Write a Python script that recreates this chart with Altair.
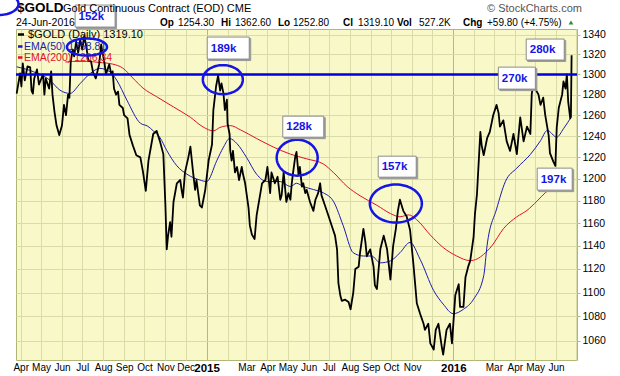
import math
import altair as alt
import pandas as pd

# ---------------- data ----------------
price_dates = [
    "2014-03-26", "2014-03-31", "2014-04-02", "2014-04-04", "2014-04-07", "2014-04-11", "2014-04-15",
    "2014-04-17", "2014-04-19", "2014-04-21", "2014-04-25", "2014-04-28", "2014-05-04", "2014-05-06",
    "2014-05-08", "2014-05-13", "2014-05-16", "2014-05-18", "2014-05-21", "2014-05-24", "2014-05-28",
    "2014-06-01", "2014-06-04", "2014-06-07", "2014-06-10", "2014-06-12", "2014-06-14", "2014-06-17",
    "2014-06-19", "2014-06-22", "2014-06-25", "2014-06-28", "2014-07-01", "2014-07-04", "2014-07-07",
    "2014-07-10", "2014-07-14", "2014-07-17", "2014-07-21", "2014-07-26", "2014-07-29", "2014-08-03",
    "2014-08-05", "2014-08-10", "2014-08-13", "2014-08-15", "2014-08-17", "2014-08-20", "2014-08-23",
    "2014-08-25", "2014-08-30", "2014-09-01", "2014-09-06", "2014-09-09", "2014-09-14", "2014-09-19",
    "2014-09-25", "2014-09-29", "2014-10-03", "2014-10-07", "2014-10-14", "2014-10-19", "2014-10-24",
    "2014-10-29", "2014-11-01", "2014-11-03", "2014-11-05", "2014-11-08", "2014-11-10", "2014-11-13",
    "2014-11-18", "2014-11-23", "2014-11-25", "2014-11-27", "2014-11-30", "2014-12-05", "2014-12-08",
    "2014-12-12", "2014-12-15", "2014-12-17", "2014-12-22", "2014-12-25", "2014-12-30",
    "2015-01-04", "2015-01-09", "2015-01-11", "2015-01-15", "2015-01-18", "2015-01-21", "2015-01-23",
    "2015-01-26", "2015-01-28", "2015-01-31", "2015-02-01", "2015-02-04", "2015-02-05", "2015-02-07",
    "2015-02-09", "2015-02-12", "2015-02-15", "2015-02-18", "2015-02-22", "2015-02-24", "2015-02-27",
    "2015-03-04", "2015-03-06", "2015-03-09", "2015-03-13", "2015-03-16", "2015-03-21", "2015-03-24",
    "2015-03-29", "2015-04-01", "2015-04-05", "2015-04-07", "2015-04-12", "2015-04-16", "2015-04-20",
    "2015-04-22", "2015-04-25", "2015-04-29", "2015-05-02", "2015-05-05", "2015-05-07", "2015-05-09",
    "2015-05-12", "2015-05-14", "2015-05-17", "2015-05-19", "2015-05-22", "2015-05-24", "2015-05-27",
    "2015-05-29", "2015-06-03", "2015-06-08", "2015-06-11", "2015-06-15", "2015-06-18", "2015-06-20",
    "2015-06-25", "2015-06-30", "2015-07-05", "2015-07-10", "2015-07-13", "2015-07-15", "2015-07-18",
    "2015-07-20", "2015-07-25", "2015-07-30", "2015-08-02", "2015-08-06", "2015-08-09", "2015-08-14",
    "2015-08-16", "2015-08-21", "2015-08-24", "2015-08-26", "2015-08-31", "2015-09-05", "2015-09-07",
    "2015-09-10", "2015-09-15", "2015-09-20", "2015-09-25", "2015-09-30", "2015-10-04", "2015-10-08",
    "2015-10-11", "2015-10-14", "2015-10-19", "2015-10-24", "2015-10-29", "2015-11-03", "2015-11-08",
    "2015-11-13", "2015-11-18", "2015-11-20", "2015-11-25", "2015-11-28", "2015-12-03", "2015-12-06",
    "2015-12-10", "2015-12-15", "2015-12-17", "2015-12-22", "2015-12-27", "2015-12-30",
    "2016-01-04", "2016-01-09", "2016-01-11", "2016-01-16", "2016-01-19", "2016-01-23", "2016-01-26",
    "2016-01-31", "2016-02-02", "2016-02-05", "2016-02-10", "2016-02-12", "2016-02-15", "2016-02-20",
    "2016-02-24", "2016-02-29", "2016-03-05", "2016-03-08", "2016-03-10", "2016-03-15", "2016-03-20",
    "2016-03-25", "2016-03-30", "2016-04-04", "2016-04-09", "2016-04-14", "2016-04-19", "2016-04-24",
    "2016-04-26", "2016-04-29", "2016-05-01", "2016-05-06", "2016-05-09", "2016-05-13", "2016-05-16",
    "2016-05-21", "2016-05-23", "2016-05-28", "2016-05-31", "2016-06-02", "2016-06-05", "2016-06-10",
    "2016-06-12", "2016-06-15", "2016-06-17", "2016-06-19", "2016-06-22", "2016-06-23", "2016-06-24",
]
price_vals = [
    1281, 1301, 1288, 1311, 1294, 1308, 1307,
    1284, 1281, 1296, 1305, 1290, 1300, 1280,
    1296, 1286, 1303, 1280, 1263, 1250, 1241,
    1250, 1270, 1260, 1280, 1277, 1313, 1325,
    1318, 1333, 1322, 1335, 1325, 1339, 1328,
    1314, 1313, 1302, 1296, 1310, 1330, 1311,
    1300, 1310, 1300, 1303, 1286, 1280, 1283,
    1270, 1267, 1260, 1257, 1241, 1231, 1222,
    1220, 1206, 1189, 1217, 1242, 1245, 1235,
    1223, 1177, 1137, 1149, 1161, 1148, 1179,
    1196, 1199, 1190, 1183, 1206, 1220, 1230,
    1206, 1190, 1199, 1176, 1174, 1190,
    1217, 1232, 1265, 1288, 1299, 1284, 1291,
    1281, 1265, 1275, 1252, 1242, 1226, 1217,
    1226, 1206, 1211, 1199, 1211, 1204, 1196,
    1174, 1158, 1150, 1146, 1167, 1185, 1196,
    1199, 1211, 1187, 1206, 1196, 1202, 1181,
    1185, 1206, 1179, 1187, 1181, 1196, 1206,
    1220, 1225, 1204, 1211, 1193, 1196, 1187,
    1190, 1179, 1171, 1181, 1187, 1196, 1185,
    1176, 1167, 1158, 1149, 1137, 1108, 1097,
    1093, 1094, 1092, 1086, 1100, 1120, 1122,
    1134, 1155, 1143, 1131, 1137, 1122, 1106,
    1103, 1137, 1149, 1137, 1111, 1140, 1155,
    1171, 1181, 1171, 1166, 1154, 1124, 1091,
    1082, 1074, 1069, 1074, 1058, 1053, 1069,
    1074, 1055, 1049, 1069, 1074, 1058,
    1098, 1107, 1088, 1088, 1113, 1122, 1127,
    1148, 1168, 1186, 1244, 1231, 1222, 1238,
    1244, 1260, 1270, 1262, 1249, 1255, 1235,
    1226, 1242, 1223, 1258, 1235, 1249, 1242,
    1280, 1296, 1286, 1280, 1270, 1277, 1260,
    1241, 1224, 1216, 1212, 1248, 1267, 1280,
    1293, 1286, 1300, 1273, 1257, 1259.3, 1319.1,
]

ema50_dates = [
    "2014-03-26", "2014-04-20", "2014-05-14", "2014-05-29", "2014-06-13", "2014-06-28", "2014-07-13",
    "2014-07-27", "2014-08-11", "2014-08-21", "2014-09-05", "2014-09-25", "2014-10-06", "2014-10-14",
    "2014-10-24", "2014-11-03", "2014-11-18", "2014-12-03", "2014-12-22", "2015-01-01", "2015-01-16",
    "2015-01-26", "2015-02-04", "2015-02-15", "2015-03-01", "2015-03-16", "2015-03-31", "2015-04-20",
    "2015-05-05", "2015-05-14", "2015-05-24", "2015-06-08", "2015-06-23", "2015-07-08", "2015-07-22",
    "2015-08-06", "2015-08-21", "2015-09-02", "2015-09-15", "2015-09-30", "2015-10-14", "2015-10-29",
    "2015-11-13", "2015-12-03", "2015-12-17", "2016-01-01", "2016-01-16", "2016-01-31", "2016-02-15",
    "2016-02-20", "2016-03-05", "2016-03-18", "2016-04-04", "2016-04-24", "2016-05-09", "2016-05-19",
    "2016-06-02", "2016-06-12", "2016-06-24",
]
ema50_vals = [
    1307.6, 1302.6, 1294.3, 1284.4, 1281.2, 1291.0, 1301.0,
    1306.0, 1302.6, 1294.3, 1274.7, 1252.3, 1249.4, 1245.0,
    1238.6, 1226.5, 1212.1, 1204.3, 1199.0, 1197.6, 1216.8,
    1229.6, 1237.7, 1232.8, 1220.0, 1204.3, 1197.6, 1197.6,
    1193.0, 1196.0, 1193.0, 1190.3, 1187.2, 1179.2, 1158.0,
    1134.0, 1131.2, 1131.2, 1125.3, 1127.0, 1134.0, 1143.0,
    1128.2, 1101.6, 1090.3, 1082.3, 1086.0, 1094.4, 1114.3,
    1140.5, 1172.6, 1197.5, 1210.0, 1222.7, 1235.6, 1245.4,
    1239.0, 1247.0, 1258.81,
]

ema200_dates = [
    "2014-06-06", "2014-06-17", "2014-07-07", "2014-07-26", "2014-08-15", "2014-08-30", "2014-09-14",
    "2014-09-29", "2014-10-19", "2014-11-13", "2014-12-08", "2014-12-27", "2015-01-11", "2015-01-21",
    "2015-02-05", "2015-02-20", "2015-03-16", "2015-04-10", "2015-05-05", "2015-05-29", "2015-06-23",
    "2015-07-08", "2015-07-28", "2015-08-16", "2015-09-10", "2015-09-30", "2015-10-14", "2015-10-27",
    "2015-11-08", "2015-11-28", "2015-12-17", "2016-01-06", "2016-01-26", "2016-02-05", "2016-02-15",
    "2016-02-27", "2016-03-15", "2016-04-04", "2016-04-19", "2016-05-04", "2016-05-16", "2016-06-08",
    "2016-06-24",
]
ema200_vals = [
    1312.3, 1313.0, 1313.0, 1312.0, 1310.3, 1306.3, 1296.3,
    1286.4, 1278.0, 1268.0, 1258.0, 1248.6, 1245.0, 1248.3,
    1250.0, 1246.0, 1237.7, 1229.6, 1223.0, 1218.6, 1213.7,
    1205.7, 1193.0, 1184.6, 1176.0, 1168.6, 1165.7, 1167.4,
    1163.0, 1149.5, 1138.6, 1131.2, 1127.2, 1128.6, 1132.7,
    1140.0, 1155.0, 1165.7, 1171.4, 1179.9, 1187.3, 1197.0,
    1206.34,
]

level_value = [1300]

# annotation ellipses (centre date / price)
ell_dates = ["2015-01-25", "2015-05-15", "2015-10-08"]
ell_prices = [1294.8, 1219.7, 1177.6]

# annotation boxes (centre date / price) and labels
box_labels = ["152k", "189k", "128k", "157k", "270k", "280k", "197k"]
box_dates = ["2014-07-20", "2015-02-02", "2015-05-24", "2015-10-10", "2016-04-04", "2016-05-16", "2016-05-30"]
box_prices = [1359.4, 1326.5, 1249.0, 1211.3, 1296.3, 1325.0, 1199.8]

y_ticks = [1060, 1080, 1100, 1120, 1140, 1160, 1180, 1200, 1220, 1240, 1260, 1280, 1300, 1320, 1340]

legend_labels = ["$GOLD (Daily) 1319.10", "EMA(50) 1258.81", "EMA(200) 1206.34"]
header_keys = ["Op", "Hi", "Lo", "Cl", "Vol", "Chg"]
header_vals = ["1254.30", "1362.60", "1252.80", "1319.10", "527.2K", "+59.80 (+4.75%)"]

# ---------------- styling / layout ----------------
W, H = 561, 331
BG = "#f8f8c8"
GRID = "#d9dca6"
GRID_YEAR = "#b4ba7c"
BLACK = "#000000"
EMA50_C = "#1c1cb0"
EMA200_C = "#e3102c"
ANN = "#1414e6"
FONT = "Liberation Sans"

ell_sizes = [(20, 14.5), (20.5, 18), (26, 19)]
box_sizes = [(40, 22), (42, 22), (41, 21), (38, 21), (37, 22), (38, 21), (35, 22)]


def ellipse_path(ratio, n=72):
    pts = []
    for i in range(n):
        t = 2 * math.pi * i / n
        pts.append(f"{math.cos(t):.4f},{ratio * math.sin(t):.4f}")
    return "M" + " L".join(pts) + " Z"


def box_path(ratio):
    r = f"{ratio:.4f}"
    return f"M-1,-{r} L1,-{r} L1,{r} L-1,{r} Z"


x_scale = alt.Scale(
    type="utc",
    domain=[alt.DateTime(year=2014, month=3, date=25, utc=True),
            alt.DateTime(year=2016, month=7, date=2, utc=True)],
    nice=False,
)
y_scale = alt.Scale(type="log", domain=[1044.6, 1346.0], nice=False, zero=False)

is_jan = "utcmonth(datum.value) == 0"
label_expr = (
    "utcmonth(datum.value) == 0 ? utcFormat(datum.value, '%Y') : "
    "((utcmonth(datum.value) == 1 || (utcmonth(datum.value) == 11 && utcyear(datum.value) == 2015) || "
    "(utcyear(datum.value) == 2016 && utcmonth(datum.value) == 6)) ? '' : utcFormat(datum.value, '%b'))"
)

x_axis = alt.Axis(
    title=None,
    orient="bottom",
    tickCount={"interval": "month", "step": 1},
    labelExpr=label_expr,
    labelFont=FONT,
    labelFontSize={"condition": {"test": is_jan, "value": 11.5}, "value": 10},
    labelFontWeight={"condition": {"test": is_jan, "value": "bold"}, "value": "normal"},
    labelColor="#000000",
    labelPadding=2,
    labelOverlap=False,
    labelFlush=False,
    labelBound=False,
    labelAlign="center",
    ticks=False,
    domain=False,
    grid=True,
    gridColor={"condition": {"test": is_jan, "value": GRID_YEAR}, "value": GRID},
    gridWidth=1,
)
y_axis = alt.Axis(
    title=None,
    orient="right",
    values=y_ticks,
    format="d",
    labelFont=FONT,
    labelFontSize=10.5,
    labelColor="#000000",
    labelPadding=2,
    tickSize=3,
    tickColor=GRID_YEAR,
    domain=False,
    grid=True,
    gridColor=GRID,
    gridWidth=1,
)

X = alt.X("date:T", scale=x_scale, axis=x_axis)
Y = alt.Y("price:Q", scale=y_scale, axis=y_axis)

price_df = pd.DataFrame({"date": price_dates, "price": price_vals})
ema50_df = pd.DataFrame({"date": ema50_dates, "price": ema50_vals})
ema200_df = pd.DataFrame({"date": ema200_dates, "price": ema200_vals})
level_df = pd.DataFrame({"price": level_value})
one = pd.DataFrame({"k": [0]})

layers = []
layers.append(alt.Chart(ema200_df).mark_line(color=EMA200_C, strokeWidth=1, interpolate="monotone").encode(X, Y))
layers.append(alt.Chart(ema50_df).mark_line(color=EMA50_C, strokeWidth=1, interpolate="monotone").encode(X, Y))
layers.append(alt.Chart(price_df).mark_line(color=BLACK, strokeWidth=1.8, strokeJoin="round").encode(X, Y))
layers.append(alt.Chart(level_df).mark_rule(color="#0000e0", strokeWidth=2.5).encode(Y))

# ellipses on the chart
for d, p, (rx, ry) in zip(ell_dates, ell_prices, ell_sizes):
    df = pd.DataFrame({"date": [d], "price": [p]})
    layers.append(
        alt.Chart(df).mark_point(
            shape=ellipse_path(ry / rx), size=(2 * rx) ** 2, filled=False,
            color=ANN, strokeWidth=2.5, opacity=1,
        ).encode(X, Y)
    )

# boxes
for lab, d, p, (w, h) in zip(box_labels, box_dates, box_prices, box_sizes):
    df = pd.DataFrame({"date": [d], "price": [p], "label": [lab]})
    layers.append(
        alt.Chart(df).mark_point(
            shape=box_path(h / w), size=w ** 2, filled=True, fill="#9a9a9a",
            stroke="#9a9a9a", strokeWidth=1, opacity=1, xOffset=1.5, yOffset=1.5,
        ).encode(X, Y)
    )
    layers.append(
        alt.Chart(df).mark_point(
            shape=box_path(h / w), size=w ** 2, filled=True, fill="#ffffff",
            stroke="#8c8c8c", strokeWidth=1, opacity=1,
        ).encode(X, Y)
    )
    layers.append(
        alt.Chart(df).mark_text(
            align="left", baseline="middle", dx=-w / 2 + 3.5, dy=0.5,
            font=FONT, fontSize=11.5, fontWeight="bold", color=ANN,
        ).encode(X, Y, text="label:N")
    )


def ptext(txt, x, y, size=11, weight="normal", color="#000000", font=FONT, align="left"):
    return alt.Chart(one).mark_text(
        text=txt, align=align, baseline="middle", font=font, fontSize=size,
        fontWeight=weight, color=color,
    ).encode(x=alt.value(x), y=alt.value(y))


def pell(x, y, rx, ry):
    return alt.Chart(one).mark_point(
        shape=ellipse_path(ry / rx), size=(2 * rx) ** 2, filled=False,
        color=ANN, strokeWidth=2.5, opacity=1,
    ).encode(x=alt.value(x), y=alt.value(y))


def pdash(x1, x2, y, color):
    return alt.Chart(one).mark_rule(color=color, strokeWidth=2.5).encode(
        x=alt.value(x1), x2=alt.value(x2), y=alt.value(y))


# legend inside the plot
leg_colors = [BLACK, EMA50_C, EMA200_C]
leg_y = [5.5, 17.5, 28.5]
leg_x = [12, 8, 8]
leg_size = [11, 10.5, 10.5]
for lab, c, yy, xx, fs in zip(legend_labels, leg_colors, leg_y, leg_x, leg_size):
    layers.append(pdash(2, 8 if xx > 10 else 6.5, yy, c))
    layers.append(ptext(lab, xx, yy, size=fs, color=c))
layers.append(pell(71, 18, 20, 8.5))

# header above the plot
layers.append(ptext("$GOLD", 1, -21.5, size=13.5, weight="bold"))
layers.append(ptext("Gold Continuous Contract (EOD) CME", 47, -20.5, size=11))
layers.append(ptext("24-Jun-2016", 0, -6.5, size=10.5))
key_x = [144, 205, 262, 327, 381, 447]
val_x = [162, 219, 277, 342, 403, 471]
for k, v, kx, vx in zip(header_keys, header_vals, key_x, val_x):
    layers.append(ptext(k, kx, -6.5, size=10, weight="bold"))
    layers.append(ptext(v, vx, -6.5, size=10))
layers.append(
    alt.Chart(one).mark_point(shape="triangle-up", filled=True, size=22, color="#2e8b2e", opacity=1)
    .encode(x=alt.value(555), y=alt.value(-6.5))
)
layers.append(ptext("\u00a9 StockCharts.com", 471, -19.8, size=11, color="#555555"))
layers.append(pell(-17, -25, 19.5, 11))

chart = alt.layer(*layers).properties(
    width=W,
    height=H,
    padding={"left": 16, "top": 29, "right": 43, "bottom": 16},
    autosize=alt.AutoSizeParams(type="none"),
    background="#ffffff",
).configure_view(
    fill=BG, stroke="#b0b678", strokeWidth=1,
)

chart.save("out.html", embed_options={"renderer": "svg", "actions": False})
